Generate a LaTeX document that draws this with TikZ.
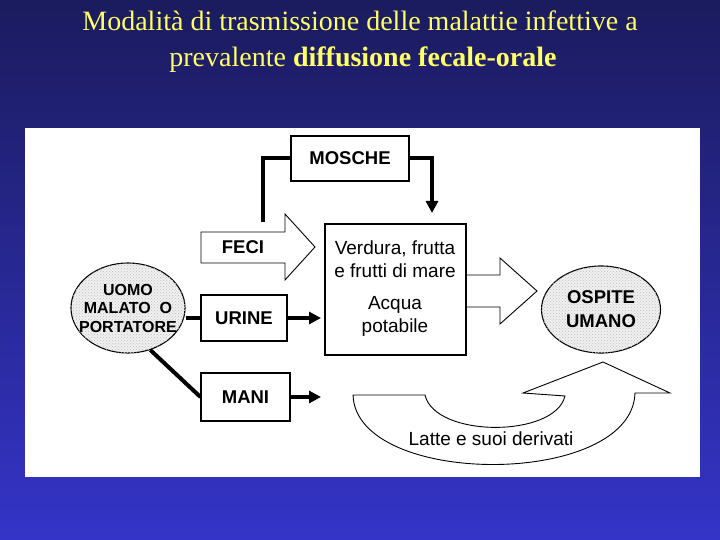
\documentclass[tikz,border=0pt]{standalone}
\usepackage{fontspec}
\setmainfont{Liberation Serif}
\setsansfont{Liberation Sans}
\usetikzlibrary{positioning, arrows.meta, shapes.geometric, patterns}
\definecolor{slideTop}{HTML}{1B1B5E}
\definecolor{slideBottom}{HTML}{3434C8}
\definecolor{titleYellow}{HTML}{FFFF66}

\begin{document}
\begin{tikzpicture}[
    x=1pt, y=-1pt,
    >={Triangle[length=12pt,width=12pt]},
    title/.style={text=titleYellow, font=\fontsize{28}{34}\selectfont, anchor=base},
    box/.style={draw, line width=1.1pt, fill=white, font=\sffamily\bfseries\fontsize{18.5}{22}\selectfont},
    host/.style={ellipse, draw, line width=1.1pt, fill=gray!12, postaction={pattern=crosshatch dots, pattern color=gray!50}, inner sep=0pt},
    hosttext/.style={align=center, inner sep=0pt},
    plain/.style={font=\sffamily\fontsize{19}{22.5}\selectfont, align=center},
    shell/.style={draw, line width=0.9pt, fill=white},
    link/.style={line width=4pt},
    flow/.style={line width=4pt, ->}
]
    \shade[top color=slideTop, bottom color=slideBottom] (0,0) rectangle (720,540);
    \useasboundingbox (0,0) rectangle (720,540);
    \fill[white] (25,128) rectangle (700,477);

    \node[title] (title1) at (360,31) {Modalità di trasmissione delle malattie infettive a};
    \node[title] (title2) at (363,67) {prevalente \textbf{diffusione fecale-orale}};

    % Block arrows
    \draw[shell] (201,232) -- (285,232) -- (285,214) -- (315,247) -- (285,280) -- (285,263) -- (201,263) -- cycle;
    \draw[shell] (466,275) -- (500,275) -- (500,258) -- (537,291) -- (500,324) -- (500,307) -- (466,307);
    \draw[shell] (353,395) -- (425,395) .. controls (435,438) and (555,438) .. (565,396)
        -- (523,393) -- (603,362) -- (670,393) -- (635,393)
        .. controls (632,488) and (356,488) .. (353,395) -- cycle;

    \node[box, minimum width=118pt, minimum height=45pt] (mosche) at (350,158.5) {MOSCHE};
    \node[box, draw=none, fill=none] (feci) at (243,247.5) {FECI};
    \node[box, minimum width=86pt, minimum height=46pt] (urine) at (244,318) {URINE};
    \node[box, minimum width=89pt, minimum height=48pt] (mani) at (245.5,397) {MANI};
    \node[draw, line width=1.1pt, fill=white, minimum width=141pt, minimum height=131pt] (veicoli) at (395.5,289.5) {};
    \node[plain] (verdura) at (395,259) {Verdura, frutta\\e frutti di mare};
    \node[plain] (acqua) at (395,316.5) {Acqua\\potabile};
    \node[plain] (latte) at (491,439) {Latte e suoi derivati};

    \node[host, minimum width=114pt, minimum height=90pt] (uomo) at (128,308) {};
    \node[hosttext, font=\sffamily\bfseries\fontsize{16}{18.5}\selectfont] (uomoText) at (uomo) {UOMO\\MALATO~~O\\PORTATORE};
    \node[host, minimum width=119pt, minimum height=87pt] (ospite) at (601,309.5) {};
    \node[hosttext, font=\sffamily\bfseries\fontsize{18.5}{24}\selectfont] (ospiteText) at (ospite) {OSPITE\\UMANO};

    \coordinate (feciTop) at (263,222);
    \coordinate (moscheTo) at (432,213);
    \coordinate (urineTo) at (321,318);
    \coordinate (maniTo) at (321,397);

    \draw[link] (feciTop) |- (mosche.west);
    \draw[flow] (mosche.east) -| (moscheTo);
    \draw[link] (uomo.east |- urine.west) -- (urine.west);
    \draw[flow] (urine.east) -- (urineTo);
    \draw[link] (uomo.-62) -- (mani.west);
    \draw[flow] (mani.east) -- (maniTo);
\end{tikzpicture}
\end{document}
